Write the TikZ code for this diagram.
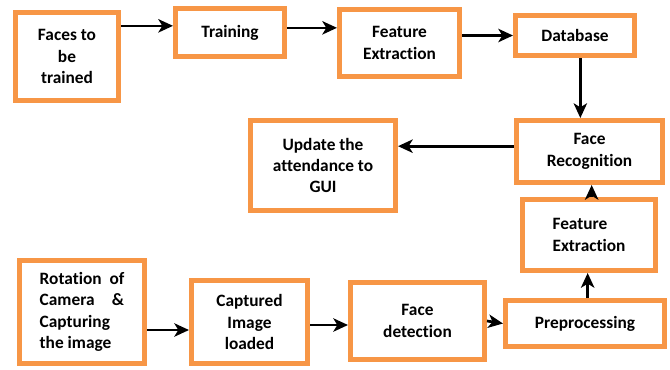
\documentclass[tikz,border=0pt]{standalone}
\usepackage{fontspec}
\setmainfont[Ligatures={NoCommon}]{Carlito}
\usepackage{xcolor}
\usetikzlibrary{arrows.meta, positioning}
\definecolor{BoxOrange}{HTML}{F79646}
\definecolor{ArrInk}{HTML}{000000}

\begin{document}
\begin{tikzpicture}[
  x=0.75pt, y=-0.75pt,
  font=\bfseries\fontsize{13}{16}\selectfont,
  stepbox/.style={rectangle, draw=BoxOrange, line width=3.75pt, fill=white,
                  text=black, inner sep=0pt, align=center},
  flow/.style={-{Stealth[length=11pt,width=10pt,inset=3pt]}, draw=ArrInk,
               line width=2pt},
]
\useasboundingbox (0,0) rectangle (670,369);

% ── training path (top row) ──────────────────────────────────────────────
\node[stepbox, minimum width=77.25pt, minimum height=66pt]   (faces) at (67,56.5)
  {Faces to\\be\\trained};
\node[stepbox, minimum width=81.75pt, minimum height=36pt]   (train) at (230,32.5)
  {Training};
\node[stepbox, minimum width=90pt, minimum height=50.25pt]   (featA) at (399.5,43)
  {Feature\\Extraction};
\node[stepbox, minimum width=89.25pt, minimum height=30pt]   (db)    at (575,35.5)
  {Database};

\coordinate (inT) at ([yshift=5pt]train.west);
\draw[flow] (inT -| faces.east) -- (inT);
\draw[flow] ([yshift=3.5pt]train.east) -- ([yshift=3.5pt]train.east -| featA.west);
\draw[flow] (featA.east |- db.west) -- (db.west);

% ── recognition and output ───────────────────────────────────────────────
\node[stepbox, minimum width=109.5pt, minimum height=46.5pt] (recog)  at (589.5,151.5)
  {Face\\Recognition};
\node[stepbox, minimum width=108.75pt, minimum height=67.5pt] (update) at (323,165.5)
  {Update the\\attendance to\\GUI};
\node[stepbox, minimum width=99.75pt, minimum height=53.25pt, align=left] (featB) at (589,235)
  {Feature\\Extraction};

\draw[flow] ([xshift=4pt]db.south) -- ([xshift=4pt]db.south |- recog.north);
\draw[flow] ([yshift=4pt]recog.west) -- ([yshift=4pt]recog.west -| update.east);
\draw[flow] ([xshift=2pt]featB.north) -- ([xshift=2pt]featB.north |- recog.south);

% ── capture path (bottom row) ────────────────────────────────────────────
\node[stepbox, minimum width=93.75pt, minimum height=77.25pt, align=left] (rot) at (82,312)
  {Rotation\ \ of\\Camera\quad\&\\Capturing\\the image};
\node[stepbox, minimum width=87pt, minimum height=62.25pt]   (capt)   at (249.5,322)
  {Captured\\Image\\loaded};
\node[stepbox, minimum width=100.5pt, minimum height=57.75pt] (detect) at (417.5,321)
  {Face\\detection};
\node[stepbox, minimum width=119.25pt, minimum height=34.5pt] (prep)   at (585,323.5)
  {Preprocessing};

\coordinate (inC) at ([yshift=-6pt]capt.west);
\coordinate (inD) at ([yshift=-3pt]detect.west);
\draw[flow] (inC -| rot.east) -- (inC);
\draw[flow] (inD -| capt.east) -- (inD);
\draw[flow] (detect.east) -- (prep.west);
\draw[flow] ([xshift=2pt]prep.north) -- ([xshift=2pt]prep.north |- featB.south);

\end{tikzpicture}
\end{document}
